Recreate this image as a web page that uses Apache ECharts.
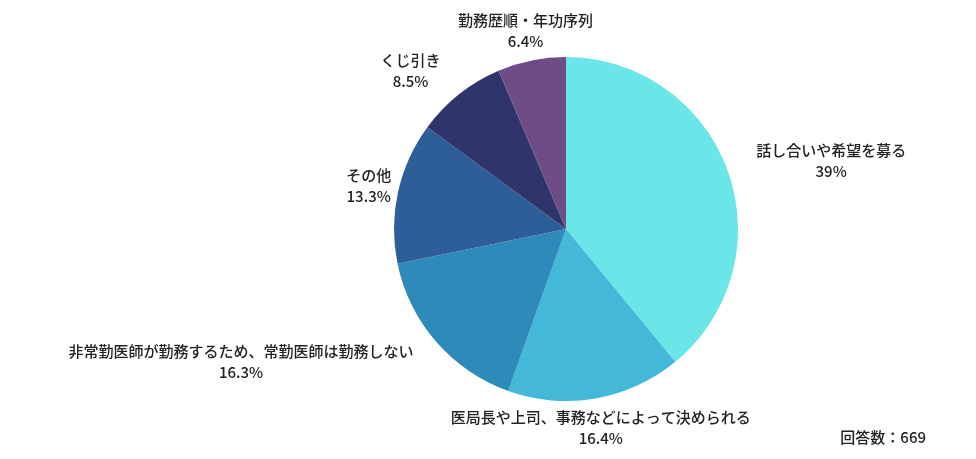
<!DOCTYPE html>
<html>
<head>
<meta charset="utf-8">
<script src="https://cdn.jsdelivr.net/npm/echarts@6/dist/echarts.min.js"></script>
<style>
  html, body { margin: 0; padding: 0; background: #fff; }
  #main { width: 976px; height: 459px; }
</style>
</head>
<body>
<div id="main"></div>
<script>
  // data
  var categories = [
    '話し合いや希望を募る',
    '医局長や上司、事務などによって決められる',
    '非常勤医師が勤務するため、常勤医師は勤務しない',
    'その他',
    'くじ引き',
    '勤務歴順・年功序列'
  ];
  var percents = [39, 16.4, 16.3, 13.3, 8.5, 6.4];
  var colors = ['#6ae5e8', '#43b8d8', '#2e8bb9', '#2d5e97', '#2f346b', '#6f4c85'];
  var answerCount = 669;

  var CX = 566, CY = 229, R = 172, LABEL_R = 202;
  var total = percents.reduce(function (a, b) { return a + b; }, 0);

  function midAngle(i) {
    var before = 0;
    for (var k = 0; k < i; k++) before += percents[k];
    return (before + percents[i] / 2) / total * Math.PI * 2;
  }

  // does the box touch the pie disc?
  function hitsPie(x, y, w, h) {
    var nx = Math.max(x, Math.min(CX, x + w));
    var ny = Math.max(y, Math.min(CY, y + h));
    return Math.hypot(nx - CX, ny - CY) < R;
  }

  var chart = echarts.init(document.getElementById('main'));
  chart.setOption({
    animation: false,
    title: {
      text: '回答数：' + answerCount,
      right: 45,
      bottom: 9,
      textStyle: {
        fontFamily: 'Noto Sans CJK JP',
        fontSize: 15,
        fontWeight: 500,
        color: '#222'
      }
    },
    series: [{
      type: 'pie',
      center: [CX, CY],
      radius: R,
      startAngle: 90,
      clockwise: true,
      data: categories.map(function (name, i) {
        return { name: name, value: percents[i], itemStyle: { color: colors[i] } };
      }),
      label: {
        position: 'outside',
        formatter: function (p) { return p.name + '\n' + p.value + '%'; },
        fontFamily: 'Noto Sans CJK JP',
        fontSize: 15,
        fontWeight: 500,
        lineHeight: 21,
        color: '#222',
        align: 'center'
      },
      labelLine: { show: false },
      labelLayout: function (p) {
        var a = midAngle(p.dataIndex);
        var dx = Math.sin(a), dy = -Math.cos(a);
        var ax = CX + LABEL_R * dx, ay = CY + LABEL_R * dy;
        var w = p.labelRect.width, h = p.labelRect.height;
        var x = ax;
        if (hitsPie(ax - w / 2, ay - h / 2, w, h)) {
          x = ax + (dx > 0 ? w / 2 : -w / 2);
        }
        return { x: x, y: ay, align: 'center', verticalAlign: 'middle' };
      },
      emphasis: { disabled: true }
    }]
  });
</script>
</body>
</html>
